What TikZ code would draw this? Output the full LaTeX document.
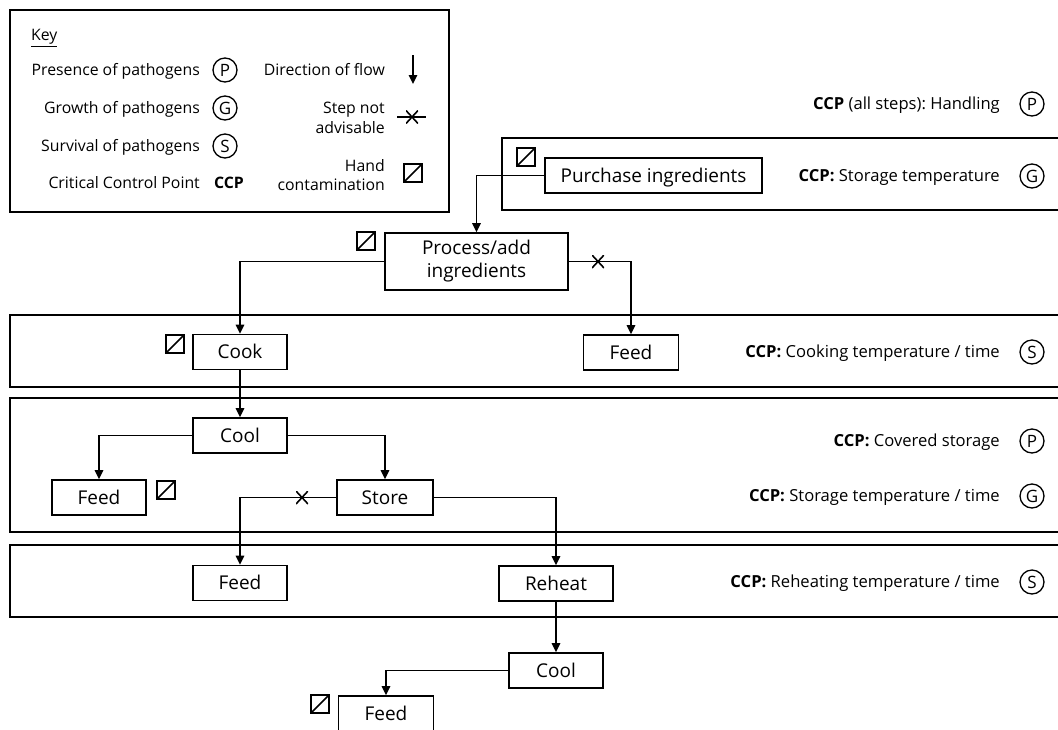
\documentclass[tikz,border=0pt]{standalone}
\usepackage{fontspec}
\setmainfont{Open Sans}
\usetikzlibrary{arrows.meta}
\frenchspacing
\tikzset{
 box/.style={draw, line width=1.6pt, minimum height=35pt, inner sep=0pt, font=\fontsize{19}{23}\selectfont, text height=13.5pt, text depth=0pt},
 arr/.style={line width=1.6pt, -{Triangle[length=9pt,width=8.5pt]}},
 conn/.style={line width=1.6pt},
 ccp/.style={anchor=east, inner sep=0pt, font=\fontsize{16.6}{20}\selectfont, text height=11.8pt, text depth=0pt},
 sym/.style={draw, circle, line width=1.3pt, minimum size=24pt, inner sep=0pt, font=\fontsize{17}{19}\selectfont, text height=12pt, text depth=0pt},
 handsq/.style={draw, line width=1.6pt, minimum size=18pt, inner sep=0pt, path picture={\draw[line width=1.6pt] (path picture bounding box.south west) -- (path picture bounding box.north east);}},
 xmark/.style={minimum width=12pt, minimum height=13pt, inner sep=0pt, path picture={\draw[line width=1.6pt] (path picture bounding box.south west) -- (path picture bounding box.north east) (path picture bounding box.north west) -- (path picture bounding box.south east);}},
 band/.style={draw, line width=1.7pt},
 keytxt/.style={inner sep=0pt, font=\fontsize{15.8}{19.5}\selectfont, text height=11.3pt, text depth=0pt},
 keytwo/.style={inner sep=0pt, font=\fontsize{15.8}{19.5}\selectfont, anchor=east, align=right},
}
\begin{document}
\begin{tikzpicture}[x=1pt,y=-1pt]
\clip (0,0) rectangle (1058,729);
\fill[white] (0,0) rectangle (1058,729);

% Key
\draw[band] (10,10) rectangle (449,212);
\node[keytxt, anchor=west] (keyt) at (31,35) {\underline{Key}};
\node[keytxt, anchor=east] (k1) at (200,70) {Presence of pathogens};
\node[keytxt, anchor=east] (k2) at (200,108) {Growth of pathogens};
\node[keytxt, anchor=east] (k3) at (200,146) {Survival of pathogens};
\node[keytxt, anchor=east] (k4) at (200,183) {Critical Control Point};
\node[sym] (kp) at (225,70) {P};
\node[sym] (kg) at (225,108) {G};
\node[sym] (ks) at (225,146) {S};
\node[keytxt, font=\fontsize{15.8}{19.5}\selectfont\bfseries] (kccp) at (229,183) {CCP};
\node[keytxt, anchor=east] (k5) at (385,70) {Direction of flow};
\node[keytwo] (k6) at (385,118) {Step not\\advisable};
\node[keytwo] (k7) at (385,175) {Hand\\contamination};
\coordinate (ka1) at (413,55);
\coordinate (ka2) at (413,84);
\draw[arr] (ka1) -- (ka2);
\coordinate (kx1) at (397,117);
\coordinate (kx2) at (426,117);
\draw[conn] (kx1) -- (kx2);
\node[xmark] (kx) at (412,117) {};
\node[handsq] (kh) at (413,173) {};

% Bands
\draw[band] (502,138) rectangle (1075,210);
\draw[band] (10,315) rectangle (1075,387);
\draw[band] (10,398) rectangle (1075,532);
\draw[band] (10,545) rectangle (1075,617);

% CCP labels
\node[ccp] (c0) at (1000,104) {{\bfseries CCP} (all steps): Handling};
\node[sym] (c0s) at (1032,104) {P};
\node[ccp] (c1) at (1000,176) {{\bfseries CCP:} Storage temperature};
\node[sym] (c1s) at (1032,176) {G};
\node[ccp] (c2) at (1000,352) {{\bfseries CCP:} Cooking temperature / time};
\node[sym] (c2s) at (1032,352) {S};
\node[ccp] (c3) at (1000,441) {{\bfseries CCP:} Covered storage};
\node[sym] (c3s) at (1032,441) {P};
\node[ccp] (c4) at (1000,496) {{\bfseries CCP:} Storage temperature / time};
\node[sym] (c4s) at (1032,496) {G};
\node[ccp] (c5) at (1000,582) {{\bfseries CCP:} Reheating temperature / time};
\node[sym] (c5s) at (1032,582) {S};

% Boxes
\node[box, minimum width=217pt] (purchase) at (653.5,175.5) {Purchase ingredients};
\node[box, minimum width=183pt, minimum height=57pt, align=center, text height={}, text depth={}, font=\fontsize{19}{23}\selectfont] (process) at (476.5,261.5) {Process/add\\ingredients};
\node[box, minimum width=94pt] (cook) at (240,352) {Cook};
\node[box, minimum width=95pt] (feedA) at (631,352.5) {Feed};
\node[box, minimum width=94pt] (coolA) at (240,435.5) {Cool};
\node[box, minimum width=94pt] (feedB) at (99,497.5) {Feed};
\node[box, minimum width=96pt] (store) at (385,497.5) {Store};
\node[box, minimum width=94pt] (feedC) at (240,583) {Feed};
\node[box, minimum width=114pt] (reheat) at (556,583.5) {Reheat};
\node[box, minimum width=94pt] (coolB) at (556,670.5) {Cool};
\node[box, minimum width=95pt] (feedD) at (386,713.5) {Feed};

% Hand contamination marks
\node[handsq] (h1) at (526,157) {};
\node[handsq] (h2) at (366,241) {};
\node[handsq] (h3) at (175,344) {};
\node[handsq] (h4) at (166,490) {};
\node[handsq] (h5) at (320,704) {};

% Connectors
\draw[arr] (purchase.west) -| (process.north);
\draw[arr] (process.west) -| (cook.north);
\draw[arr] (process.east) -| (feedA.north);
\draw[arr] (cook.south) -- (coolA.north);
\draw[arr] (coolA.west) -| (feedB.north);
\draw[arr] (coolA.east) -| (store.north);
\draw[arr] (store.west) -| (feedC.north);
\draw[arr] (store.east) -| (reheat.north);
\draw[arr] (reheat.south) -- (coolB.north);
\draw[arr] (coolB.west) -| (feedD.north);

% Step not advisable marks
\node[xmark] (x1) at (598,261.5) {};
\node[xmark] (x2) at (302,497.5) {};
\end{tikzpicture}
\end{document}
